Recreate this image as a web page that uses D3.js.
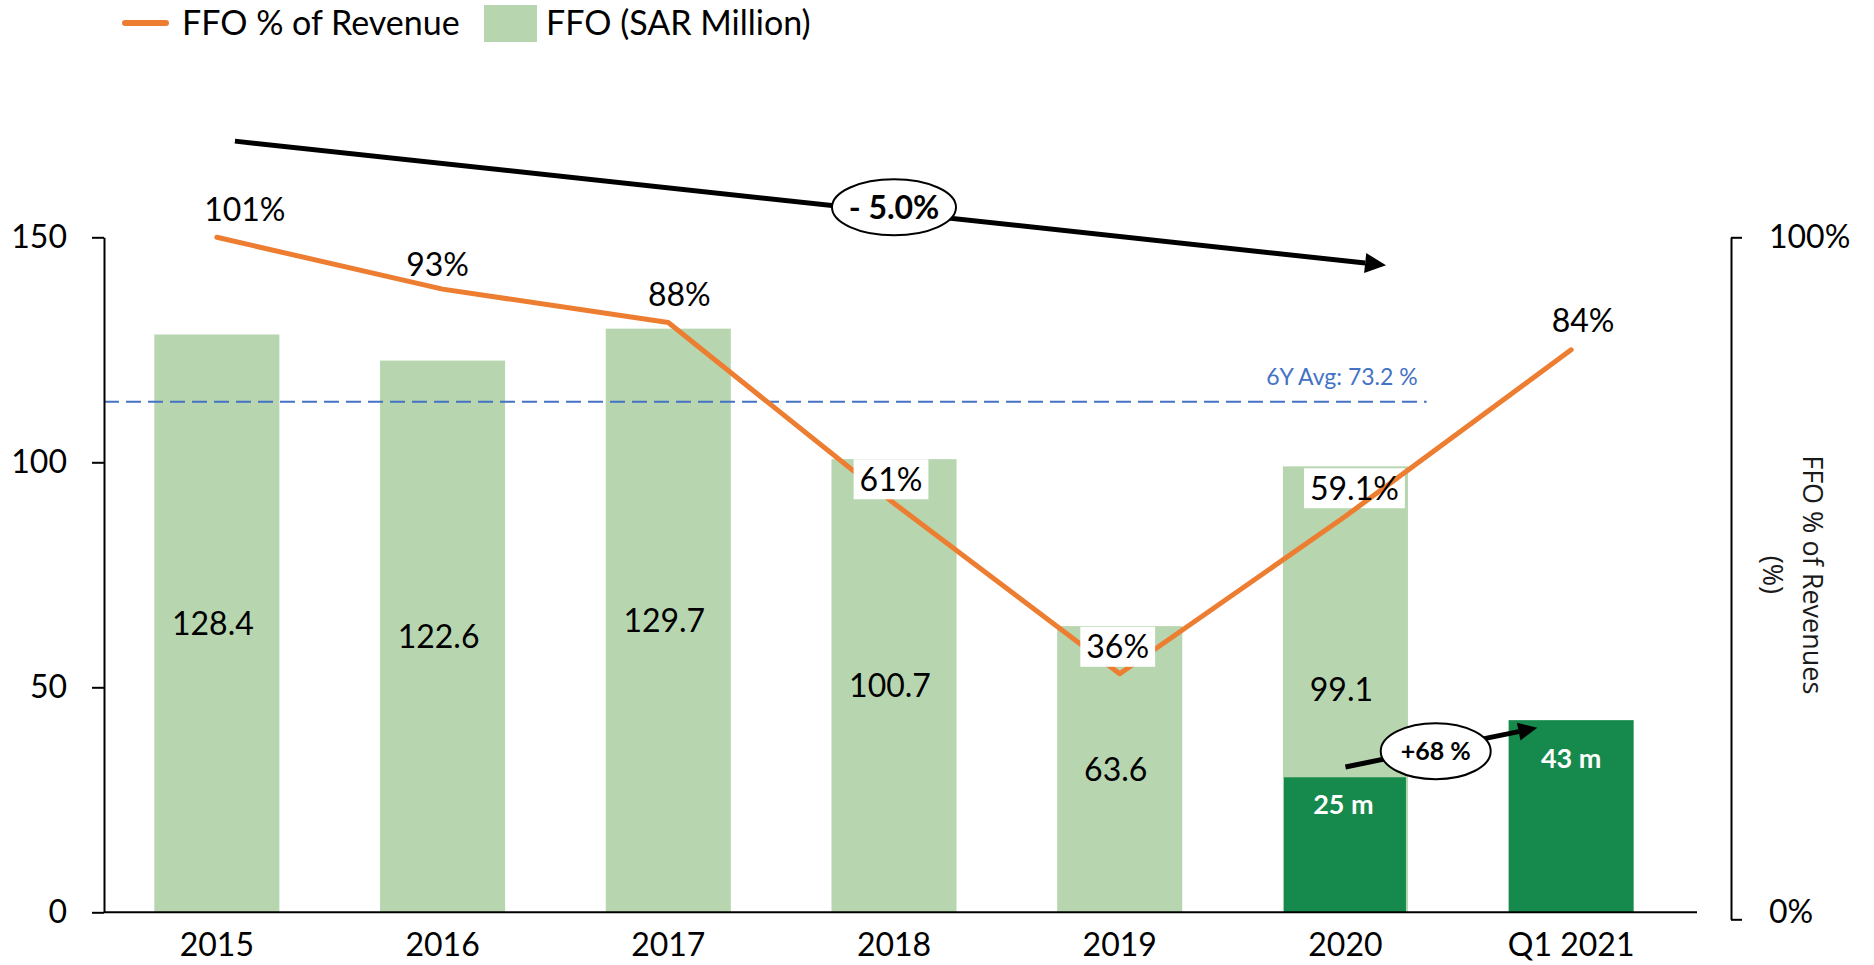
<!DOCTYPE html>
<html>
<head>
<meta charset="utf-8">
<script src="https://cdn.jsdelivr.net/npm/d3@7"></script>
<style>
  html, body { margin: 0; padding: 0; background: #fff; }
  svg { display: block; font-family: Lato, "Open Sans", sans-serif; }
</style>
</head>
<body>
<svg id="chart" width="1874" height="965"></svg>
<script>
// ---------- DATA ----------
const categories   = ["2015", "2016", "2017", "2018", "2019", "2020", "Q1 2021"];
const ffoValues    = [128.4, 122.6, 129.7, 100.7, 63.6, 99.1, null];   // FFO (SAR Million)
const ffoLabels    = ["128.4", "122.6", "129.7", "100.7", "63.6", "99.1", ""];
const ffoPct       = [101, 92.4, 87.5, 61, 36, 59.1, 83.5];              // FFO % of Revenue
const ffoPctLabels = ["101%", "93%", "88%", "61%", "36%", "59.1%", "84%"];
const quarterCats   = ["2020", "Q1 2021"];
const quarterValues = [30, 42.7];                                        // drawn bar heights
const quarterLabels = ["25 m", "43 m"];
const leftTicks  = [0, 50, 100, 150];
const rightTicks = [0, 100];
const avgLevel   = 75.9;                 // level at which the average line is drawn (% axis)
const avgText    = "6Y Avg: 73.2 %";
const trendText  = "- 5.0%";
const growthText = "+68 %";
const legendItems = ["FFO % of Revenue", "FFO (SAR Million)"];
const rightTitle = ["FFO % of Revenues", "(%)"];

// ---------- LAYOUT ----------
const svg = d3.select("#chart");
const plotL = 104, plotR = 1684, y0 = 912.3, yTop = 237.3;
const LIGHT = "#B7D6B0", DARK = "#158A4C", ORANGE = "#ED7D31", BLUE = "#4472C4";

const x = d3.scaleBand().domain(categories).range([plotL, plotR])
  .paddingInner(0.446).paddingOuter(0.223);
const xc = c => x(c) + x.bandwidth() / 2;
const xi = i => x(categories[0]) + x.bandwidth() / 2 + i * x.step();   // fractional category index

const y = d3.scaleLinear().domain([0, 150]).range([y0, yTop]);
const yR = d3.scaleLinear().domain([0, 100]).range([919.3, yTop]).clamp(true);
const yRfree = yR.copy().clamp(false);

// ---------- BARS ----------
svg.append("g").selectAll("rect")
  .data(categories.map((c, i) => ({ c, v: ffoValues[i] })).filter(d => d.v != null))
  .join("rect")
  .attr("x", d => x(d.c)).attr("width", x.bandwidth())
  .attr("y", d => y(d.v)).attr("height", d => y0 - y(d.v))
  .attr("fill", LIGHT);

svg.append("g").selectAll("rect")
  .data(quarterCats.map((c, i) => ({ c, v: quarterValues[i], i })))
  .join("rect")
  .attr("x", d => x(d.c) + (d.i === 0 ? 1 : 0))
  .attr("width", d => x.bandwidth() - (d.i === 0 ? 3 : 0))
  .attr("y", d => y(d.v)).attr("height", d => y0 - y(d.v))
  .attr("fill", DARK);

// bar value labels
svg.append("g").selectAll("text")
  .data(categories.map((c, i) => ({ c, v: ffoValues[i], t: ffoLabels[i] })).filter(d => d.v != null))
  .join("text")
  .attr("x", d => xc(d.c) - 4).attr("y", d => y(d.v / 2))
  .attr("dy", "0.36em").attr("text-anchor", "middle")
  .attr("font-size", 32).attr("fill", "#000").text(d => d.t);

const qOffset = [27, 38];
svg.append("g").selectAll("text")
  .data(quarterCats.map((c, i) => ({ c, v: quarterValues[i], t: quarterLabels[i], i })))
  .join("text")
  .attr("x", d => xc(d.c) - (d.i === 0 ? 2 : 0)).attr("y", d => y(d.v) + qOffset[d.i])
  .attr("dy", "0.36em").attr("text-anchor", "middle")
  .attr("font-size", 27).attr("font-weight", 700).attr("fill", "#fff").text(d => d.t);

// ---------- AVERAGE LINE ----------
svg.append("line")
  .attr("x1", plotL).attr("x2", xi(5.36))
  .attr("y1", yR(avgLevel)).attr("y2", yR(avgLevel))
  .attr("stroke", BLUE).attr("stroke-width", 2).attr("stroke-dasharray", "15,7");
svg.append("text")
  .attr("x", xi(5.32)).attr("y", yR(avgLevel) - 17)
  .attr("text-anchor", "end").attr("font-size", 23).attr("fill", BLUE).text(avgText);

// ---------- AXES ----------
const axL = svg.append("g").attr("transform", `translate(${plotL},0)`)
  .call(d3.axisLeft(y).tickValues(leftTicks).tickSize(12).tickSizeOuter(0).tickPadding(25));
axL.select(".domain").attr("stroke", "#000").attr("stroke-width", 2);
axL.selectAll(".tick line").attr("stroke", "#000").attr("stroke-width", 2);
axL.selectAll("text").attr("font-size", 32).attr("font-family", "Lato").attr("fill", "#000");

const axB = svg.append("g").attr("transform", `translate(0,${y0})`)
  .call(d3.axisBottom(x).tickSize(0).tickPadding(21));
axB.select(".domain").remove();
axB.selectAll("text").attr("font-size", 32).attr("font-family", "Lato").attr("fill", "#000");
svg.append("line").attr("x1", plotL).attr("x2", 1697).attr("y1", y0).attr("y2", y0)
  .attr("stroke", "#000").attr("stroke-width", 2);

const axR = svg.append("g").attr("transform", "translate(1731,0)")
  .call(d3.axisRight(yR).tickValues(rightTicks).tickSize(11).tickSizeOuter(0).tickPadding(27)
        .tickFormat(d => d + "%"));
axR.select(".domain").attr("stroke", "#000").attr("stroke-width", 2);
axR.selectAll(".tick line").attr("stroke", "#000").attr("stroke-width", 2);
axR.selectAll("text").attr("font-size", 32).attr("font-family", "Lato").attr("fill", "#000")
  .attr("y", d => d === 0 ? -7 : 0);

const rt = svg.append("g").attr("transform", `translate(1813,${(yTop + 912.3) / 2}) rotate(90)`);
rt.selectAll("text").data(rightTitle).join("text")
  .attr("x", 0).attr("y", (d, i) => i * 40)
  .attr("dominant-baseline", "central").attr("text-anchor", "middle")
  .attr("font-family", "'Open Sans', sans-serif").attr("font-size", 27).attr("fill", "#1a1a1a")
  .text(d => d);

// ---------- LINE + LABELS ----------
const pts = categories.map((c, i) => ({ c, v: ffoPct[i], t: ffoPctLabels[i], i }));
const labelDx = [28, -5, 11, -3, -2, 9, 12];
const labelDy = [-28, -25, -28, -24, -27, -28, -29];
const boxed = [3, 4, 5];
const under = [5];   // boxes drawn beneath the line

function drawLabelBoxes(g, idxs) {
  idxs.forEach(i => {
    const d = pts[i];
    const cx = xc(d.c) + labelDx[i], cy = yR(d.v) + labelDy[i];
    const t = g.append("text").attr("x", cx).attr("y", cy).attr("dy", "0.36em")
      .attr("text-anchor", "middle").attr("font-size", 32).text(d.t);
    const bb = t.node().getBBox();
    g.insert("rect", "text").attr("x", bb.x - 6).attr("y", cy - 20).attr("width", bb.width + 12)
      .attr("height", 40).attr("fill", "#fff");
    t.remove();
  });
}
const gUnder = svg.append("g");
drawLabelBoxes(gUnder, under);

svg.append("path").datum(pts)
  .attr("d", d3.line().x(d => xc(d.c)).y(d => yR(d.v)))
  .attr("fill", "none").attr("stroke", ORANGE).attr("stroke-width", 5)
  .attr("stroke-linejoin", "round").attr("stroke-linecap", "round");

const gOver = svg.append("g");
drawLabelBoxes(gOver, boxed.filter(i => !under.includes(i)));

svg.append("g").selectAll("text").data(pts).join("text")
  .attr("x", d => xc(d.c) + labelDx[d.i]).attr("y", d => yR(d.v) + labelDy[d.i])
  .attr("dy", "0.36em").attr("text-anchor", "middle")
  .attr("font-size", 32).attr("fill", "#000").text(d => d.t);

// ---------- ANNOTATION ARROWS ----------
function arrow(x1, y1, x2, y2, w, headLen, headHalf) {
  const a = Math.atan2(y2 - y1, x2 - x1);
  const bx = x2 - headLen * Math.cos(a), by = y2 - headLen * Math.sin(a);
  svg.append("line").attr("x1", x1).attr("y1", y1).attr("x2", bx).attr("y2", by)
    .attr("stroke", "#000").attr("stroke-width", w);
  const nx = -Math.sin(a), ny = Math.cos(a);
  svg.append("path")
    .attr("d", `M${x2},${y2}L${bx + nx * headHalf},${by + ny * headHalf}L${bx - nx * headHalf},${by - ny * headHalf}Z`)
    .attr("fill", "#000");
}
function badge(cx, cy, rx, ry, text, fs) {
  svg.append("ellipse").attr("cx", cx).attr("cy", cy).attr("rx", rx).attr("ry", ry)
    .attr("fill", "#fff").attr("stroke", "#000").attr("stroke-width", 2);
  svg.append("text").attr("x", cx).attr("y", cy).attr("dy", "0.36em")
    .attr("text-anchor", "middle").attr("font-size", fs).attr("font-weight", 700)
    .attr("fill", "#000").text(text);
}
// overall trend arrow (in category-index / percent-axis units)
arrow(xi(0.08), yRfree(114.1), xi(5.18), yRfree(95.9), 5, 21, 10);
badge(xi(3.0), yRfree(104.4), 62, 28, trendText, 32);
// quarterly growth arrow (category-index / SAR axis units)
arrow(xi(5.0), y(32.3), xi(5.85), y(41.0), 5, 19, 9);
badge(xi(5.4), y(35.8), 55, 28, growthText, 25);

// ---------- LEGEND ----------
svg.append("line").attr("x1", 125).attr("x2", 166).attr("y1", 23).attr("y2", 23)
  .attr("stroke", ORANGE).attr("stroke-width", 6).attr("stroke-linecap", "round");
svg.append("text").attr("x", 182).attr("y", 23).attr("dy", "0.36em")
  .attr("font-size", 34).attr("fill", "#000").text(legendItems[0]);
svg.append("rect").attr("x", 484).attr("y", 5).attr("width", 53).attr("height", 37).attr("fill", LIGHT);
svg.append("text").attr("x", 546).attr("y", 23).attr("dy", "0.36em")
  .attr("font-size", 34).attr("fill", "#000").text(legendItems[1]);
</script>
</body>
</html>
